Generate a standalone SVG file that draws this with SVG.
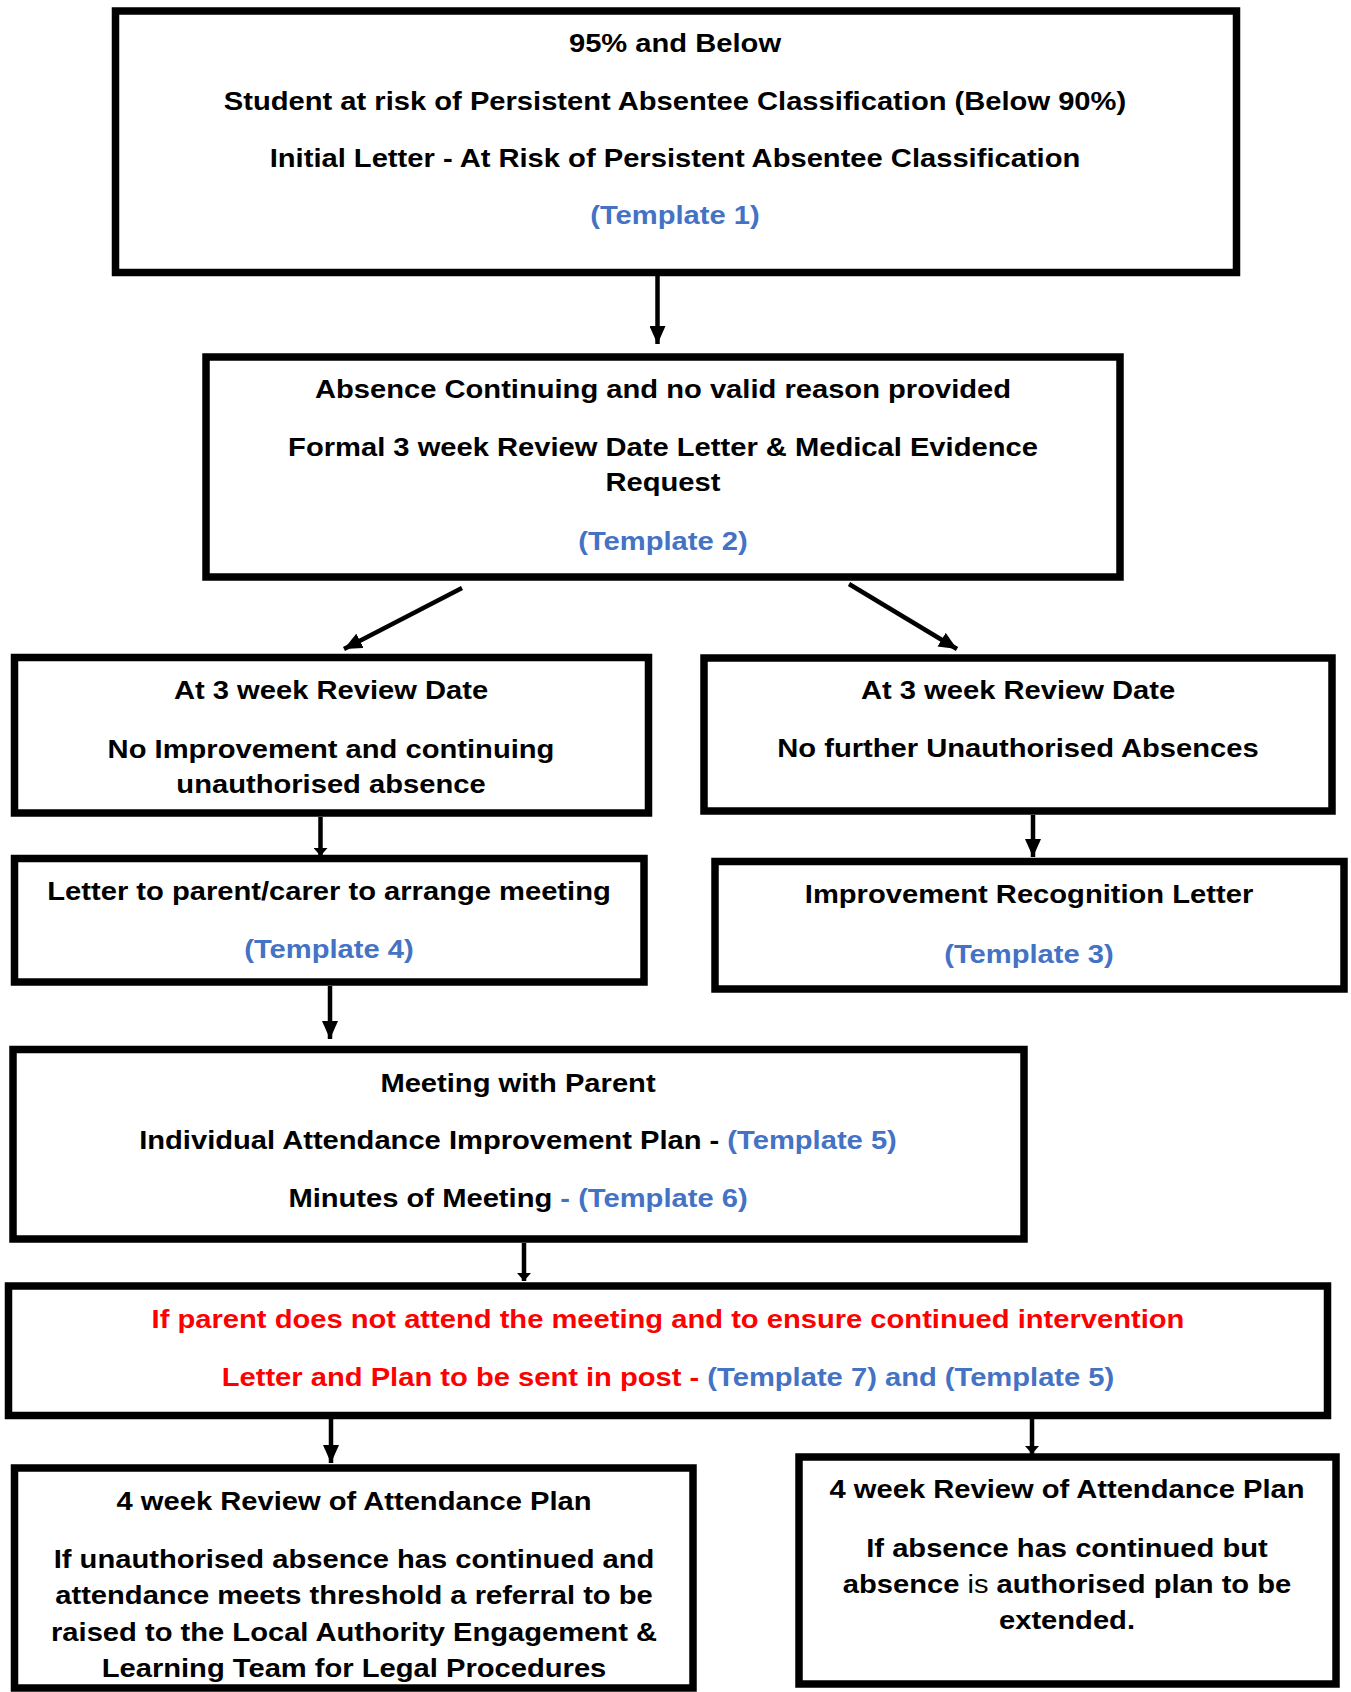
<svg xmlns="http://www.w3.org/2000/svg" width="1351" height="1692" viewBox="0 0 1351 1692">
<style>
.box{fill:#fff;stroke:#000;stroke-width:7.5}
.t{font-family:"Liberation Sans",Arial,Helvetica,sans-serif;font-weight:bold;font-size:26.5px;fill:#000;text-anchor:middle}
.b{fill:#4472C4}
.r{fill:#FF0000}
.n{font-weight:normal}
.c{stroke:#000;stroke-width:4.5;fill:none}
</style>
<defs>
<marker id="ah" markerUnits="userSpaceOnUse" markerWidth="20" markerHeight="16" refX="18" refY="8" orient="auto" viewBox="0 0 20 16"><path d="M0,0 L18,8 L0,16 z" fill="#000"/></marker>
<marker id="ahs" markerUnits="userSpaceOnUse" markerWidth="10" markerHeight="14" refX="8" refY="7" orient="auto" viewBox="0 0 10 14"><path d="M0,0 L8,7 L0,14 z" fill="#000"/></marker>
</defs>
<rect width="1351" height="1692" fill="#fff"/>
<g id="connectors">
<line class="c" x1="657.5" y1="276" x2="657.5" y2="344" marker-end="url(#ah)"/>
<line class="c" x1="462" y1="588" x2="344" y2="649" marker-end="url(#ah)"/>
<line class="c" x1="849" y1="584" x2="957" y2="649" marker-end="url(#ah)"/>
<line class="c" x1="320.5" y1="817" x2="320.5" y2="856" marker-end="url(#ahs)"/>
<line class="c" x1="1033" y1="815" x2="1033" y2="857" marker-end="url(#ah)"/>
<line class="c" x1="330" y1="986" x2="330" y2="1039" marker-end="url(#ah)"/>
<line class="c" x1="524" y1="1243" x2="524" y2="1281" marker-end="url(#ahs)"/>
<line class="c" x1="331" y1="1419" x2="331" y2="1463" marker-end="url(#ah)"/>
<line class="c" x1="1032" y1="1419" x2="1032" y2="1454" marker-end="url(#ahs)"/>
</g>
<g id="n1">
<rect class="box" x="115.5" y="11" width="1121" height="261.5"/>
<text class="t" transform="translate(675 51.5) scale(1.1 1)">95% and Below</text>
<text class="t" transform="translate(675 109.5) scale(1.1 1)">Student at risk of Persistent Absentee Classification (Below 90%)</text>
<text class="t" transform="translate(675 167) scale(1.1 1)">Initial Letter - At Risk of Persistent Absentee Classification</text>
<text class="t b" transform="translate(675 224) scale(1.1 1)">(Template 1)</text>
</g>
<g id="n2">
<rect class="box" x="206" y="357" width="914" height="220"/>
<text class="t" transform="translate(663 398) scale(1.1 1)">Absence Continuing and no valid reason provided</text>
<text class="t" transform="translate(663 455.5) scale(1.1 1)">Formal 3 week Review Date Letter &amp; Medical Evidence</text>
<text class="t" transform="translate(663 491) scale(1.1 1)">Request</text>
<text class="t b" transform="translate(663 549.5) scale(1.1 1)">(Template 2)</text>
</g>
<g id="n3">
<rect class="box" x="14.5" y="657.5" width="634" height="155.5"/>
<text class="t" transform="translate(331 699) scale(1.1 1)">At 3 week Review Date</text>
<text class="t" transform="translate(331 758) scale(1.1 1)">No Improvement and continuing</text>
<text class="t" transform="translate(331 793) scale(1.1 1)">unauthorised absence</text>
</g>
<g id="n4">
<rect class="box" x="704" y="658" width="628" height="153"/>
<text class="t" transform="translate(1018 699) scale(1.1 1)">At 3 week Review Date</text>
<text class="t" transform="translate(1018 757) scale(1.1 1)">No further Unauthorised Absences</text>
</g>
<g id="n5">
<rect class="box" x="14.5" y="858.5" width="629.5" height="123.5"/>
<text class="t" transform="translate(329 900) scale(1.1 1)">Letter to parent/carer to arrange meeting</text>
<text class="t b" transform="translate(329 958) scale(1.1 1)">(Template 4)</text>
</g>
<g id="n6">
<rect class="box" x="715" y="861.5" width="629" height="127.5"/>
<text class="t" transform="translate(1029 903) scale(1.1 1)">Improvement Recognition Letter</text>
<text class="t b" transform="translate(1029 963) scale(1.1 1)">(Template 3)</text>
</g>
<g id="n7">
<rect class="box" x="13" y="1049.5" width="1011" height="189.5"/>
<text class="t" transform="translate(518 1092) scale(1.1 1)">Meeting with Parent</text>
<text class="t" transform="translate(518 1149) scale(1.1 1)">Individual Attendance Improvement Plan -<tspan class="b"> (Template 5)</tspan></text>
<text class="t" transform="translate(518 1207) scale(1.1 1)">Minutes of Meeting<tspan class="b"> - (Template 6)</tspan></text>
</g>
<g id="n8">
<rect class="box" x="8.5" y="1286" width="1319" height="129.5"/>
<text class="t r" transform="translate(668 1328) scale(1.1 1)">If parent does not attend the meeting and to ensure continued intervention</text>
<text class="t r" transform="translate(668 1386) scale(1.1 1)">Letter and Plan to be sent in post -<tspan class="b"> (Template 7) and (Template 5)</tspan></text>
</g>
<g id="n9">
<rect class="box" x="14.5" y="1468" width="678.5" height="220"/>
<text class="t" transform="translate(354 1510) scale(1.1 1)">4 week Review of Attendance Plan</text>
<text class="t" transform="translate(354 1568) scale(1.1 1)">If unauthorised absence has continued and</text>
<text class="t" transform="translate(354 1604) scale(1.1 1)">attendance meets threshold a referral to be</text>
<text class="t" transform="translate(354 1641) scale(1.1 1)">raised to the Local Authority Engagement &amp;</text>
<text class="t" transform="translate(354 1677) scale(1.1 1)">Learning Team for Legal Procedures</text>
</g>
<g id="n10">
<rect class="box" x="799" y="1457" width="537" height="227"/>
<text class="t" transform="translate(1067 1498) scale(1.1 1)">4 week Review of Attendance Plan</text>
<text class="t" transform="translate(1067 1557) scale(1.1 1)">If absence has continued but</text>
<text class="t" transform="translate(1067 1593) scale(1.1 1)">absence <tspan class="n">is</tspan> authorised plan to be</text>
<text class="t" transform="translate(1067 1629) scale(1.1 1)">extended.</text>
</g>
</svg>
